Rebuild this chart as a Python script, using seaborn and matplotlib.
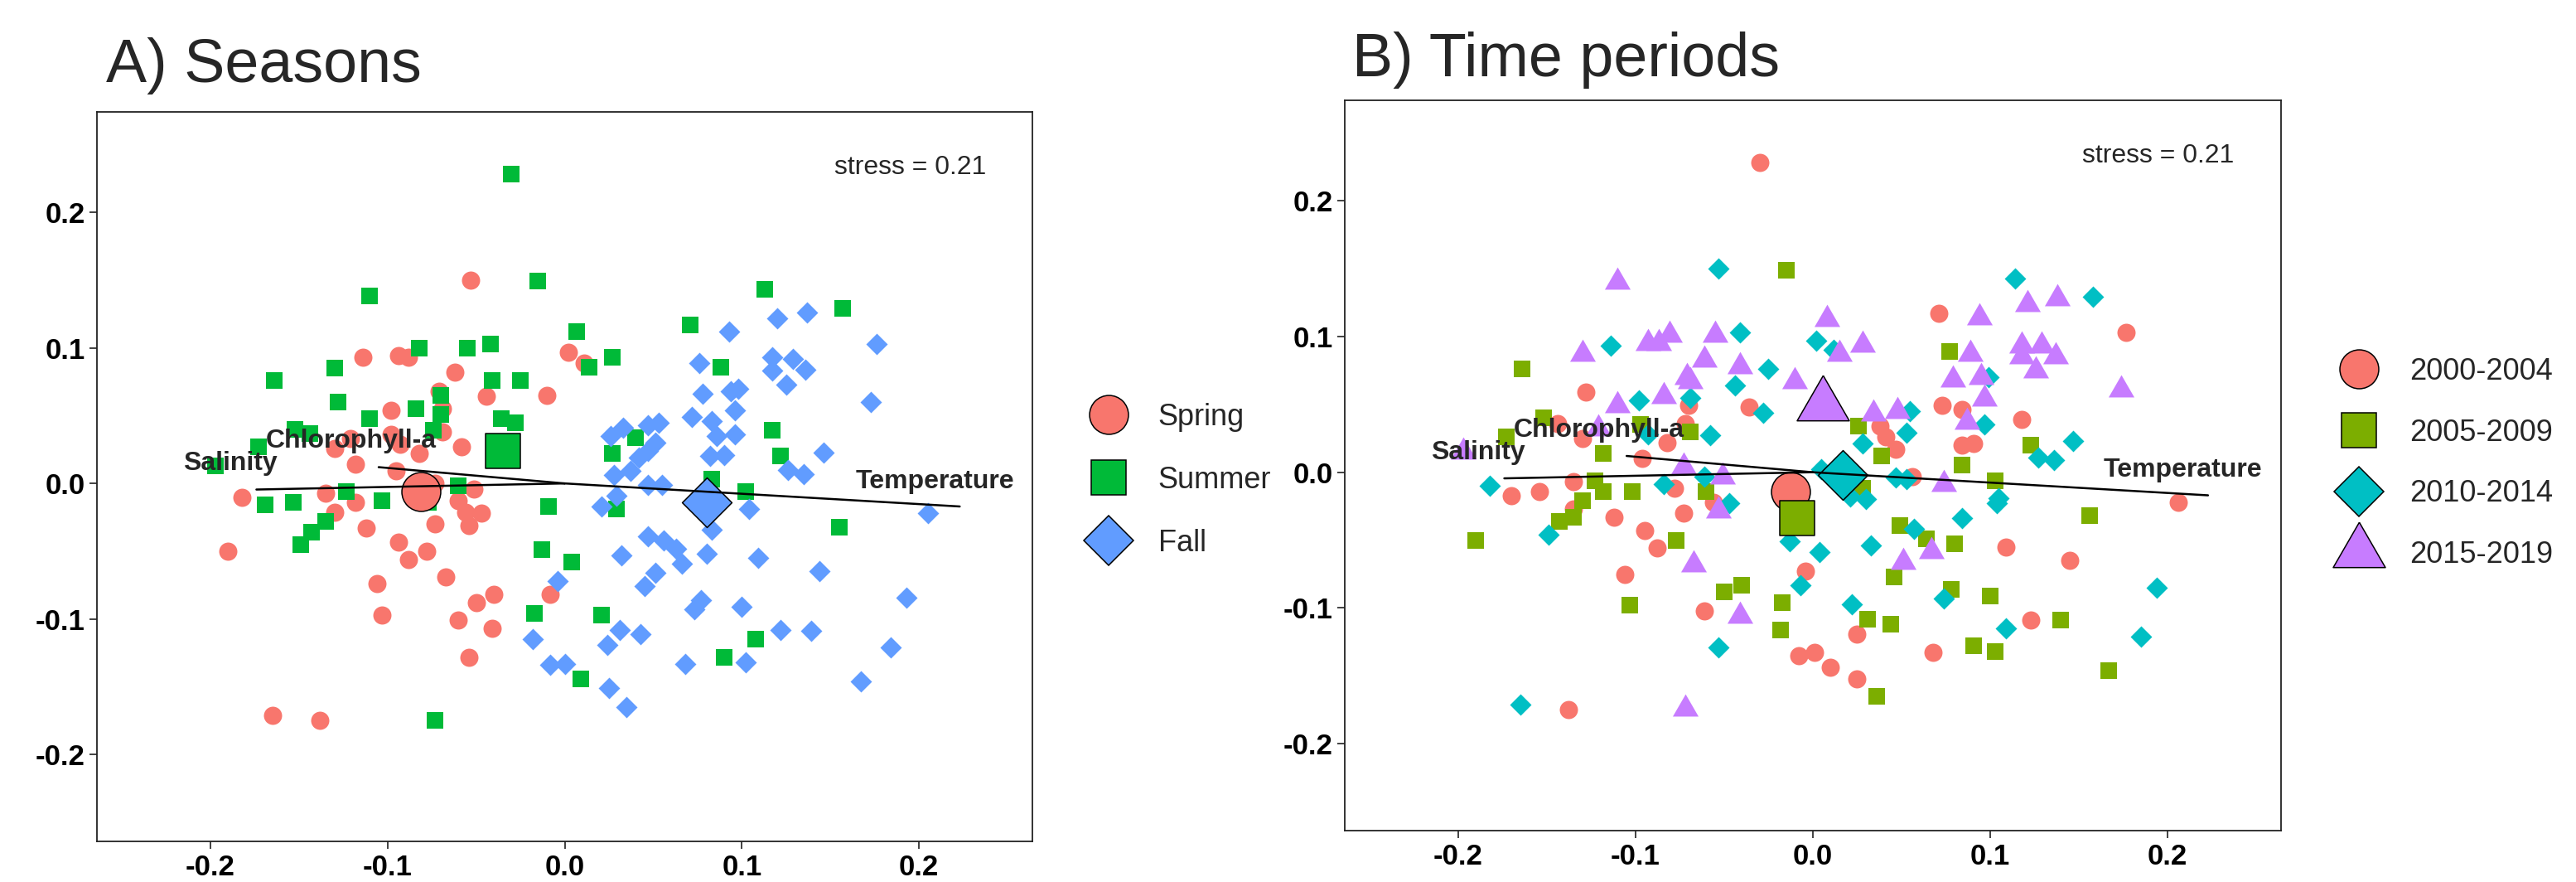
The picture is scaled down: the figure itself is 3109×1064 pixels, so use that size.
import matplotlib
matplotlib.use("Agg")
import matplotlib.pyplot as plt
import seaborn as sns
from matplotlib.lines import Line2D

# ---------------- Panel A : seasons ----------------
spring_x = [-0.053, -0.114, -0.094, -0.088, -0.062, 0.002, 0.011, -0.071, -0.044, -0.010,
            -0.098, -0.069, -0.069, -0.098, -0.121, -0.130, -0.093, -0.082, -0.058, -0.118,
            -0.095, -0.182, -0.135, -0.118, -0.130, -0.112, -0.094, -0.088, -0.078, -0.073,
            -0.060, -0.056, -0.054, -0.047, -0.051, -0.073, -0.190, -0.106, -0.067, -0.103,
            -0.050, -0.040, -0.060, -0.041, -0.054, -0.008, -0.165, -0.138]
spring_y = [0.150, 0.093, 0.094, 0.093, 0.082, 0.097, 0.089, 0.068, 0.064, 0.065,
            0.054, 0.055, 0.038, 0.036, 0.033, 0.026, 0.029, 0.022, 0.027, 0.014,
            0.009, -0.010, -0.007, -0.014, -0.021, -0.033, -0.043, -0.056, -0.050, -0.030,
            -0.013, -0.021, -0.031, -0.022, -0.004, 0.000, -0.050, -0.074, -0.069, -0.097,
            -0.088, -0.082, -0.101, -0.107, -0.128, -0.082, -0.171, -0.175]

summer_x = [-0.030, -0.015, -0.110, 0.007, -0.082, -0.055, -0.042, -0.130, -0.164, -0.041,
            -0.025, -0.128, -0.070, -0.084, -0.110, -0.070, -0.036, -0.028, -0.152, -0.144,
            -0.074, -0.173, -0.197, -0.169, -0.153, -0.123, -0.103, -0.135, -0.143, -0.149,
            -0.060, -0.077, -0.009, -0.013, 0.004, -0.017, 0.009, -0.073, 0.113, 0.157,
            0.071, 0.027, 0.014, 0.088, 0.117, 0.040, 0.027, 0.122, 0.083, 0.102,
            0.029, 0.155, 0.108, 0.090, 0.021]
summer_y = [0.228, 0.149, 0.138, 0.112, 0.100, 0.100, 0.103, 0.085, 0.076, 0.076,
            0.076, 0.060, 0.065, 0.055, 0.048, 0.051, 0.048, 0.045, 0.040, 0.037,
            0.039, 0.027, 0.013, -0.016, -0.014, -0.006, -0.013, -0.028, -0.036, -0.045,
            -0.002, -0.014, -0.017, -0.049, -0.058, -0.096, -0.144, -0.175, 0.143, 0.129,
            0.117, 0.093, 0.086, 0.086, 0.039, 0.034, 0.022, 0.020, 0.003, -0.006,
            -0.019, -0.032, -0.115, -0.128, -0.097]

fall_x = [-0.004, -0.018, -0.008, 0.000, 0.120, 0.137, 0.093, 0.176, 0.076, 0.117,
          0.129, 0.136, 0.117, 0.125, 0.078, 0.094, 0.098, 0.173, 0.096, 0.072,
          0.083, 0.086, 0.096, 0.026, 0.033, 0.047, 0.053, 0.051, 0.042, 0.047,
          0.082, 0.090, 0.146, 0.126, 0.135, 0.028, 0.037, 0.047, 0.055, 0.029,
          0.021, 0.083, 0.104, 0.205, 0.047, 0.056, 0.063, 0.032, 0.080, 0.066,
          0.109, 0.144, 0.051, 0.045, 0.077, 0.073, 0.100, 0.193, 0.031, 0.043,
          0.024, 0.122, 0.139, 0.184, 0.068, 0.102, 0.025, 0.035, 0.167]
fall_y = [-0.072, -0.115, -0.134, -0.133, 0.122, 0.126, 0.112, 0.103, 0.089, 0.093,
          0.092, 0.084, 0.083, 0.073, 0.066, 0.068, 0.070, 0.060, 0.054, 0.049,
          0.046, 0.035, 0.036, 0.035, 0.041, 0.043, 0.045, 0.030, 0.019, 0.024,
          0.020, 0.021, 0.023, 0.010, 0.007, 0.006, 0.009, -0.001, -0.001, -0.009,
          -0.017, -0.034, -0.019, -0.022, -0.039, -0.042, -0.048, -0.053, -0.052, -0.059,
          -0.055, -0.065, -0.066, -0.076, -0.086, -0.093, -0.091, -0.084, -0.108, -0.111,
          -0.119, -0.108, -0.109, -0.121, -0.133, -0.132, -0.151, -0.165, -0.146]

season_labels = ["Spring", "Summer", "Fall"]
season_cent_x = [-0.081, -0.035, 0.080]
season_cent_y = [-0.006, 0.024, -0.014]

# ---------------- Panel B : time periods ----------------
p1_x = [-0.030, -0.128, -0.144, -0.130, -0.036, -0.070, -0.072, -0.082, -0.096,
        0.071, 0.177, 0.073, 0.084, 0.118, 0.038, 0.041, 0.047, 0.084, 0.091,
        -0.135, -0.170, -0.154, -0.135, -0.112, -0.078, -0.073, -0.056, -0.095, -0.088,
        -0.106, -0.061, -0.004, -0.008, 0.001, -0.138,
        0.056, 0.206, 0.109, 0.145, 0.025, 0.010, 0.025, 0.068, 0.123]
p1_y = [0.228, 0.059, 0.036, 0.025, 0.048, 0.049, 0.036, 0.022, 0.010,
        0.117, 0.103, 0.049, 0.046, 0.039, 0.034, 0.026, 0.017, 0.020, 0.021,
        -0.007, -0.017, -0.014, -0.027, -0.033, -0.012, -0.030, -0.022, -0.043, -0.056,
        -0.075, -0.102, -0.073, -0.135, -0.133, -0.175,
        -0.003, -0.022, -0.055, -0.065, -0.119, -0.144, -0.152, -0.133, -0.109]

p2_x = [-0.015, -0.164, -0.152, -0.173, -0.097, -0.069, -0.118,
        0.077, 0.026, 0.039, 0.123, 0.084,
        -0.123, -0.118, -0.102, -0.130, -0.135, -0.143, -0.190, -0.060, -0.077, -0.103,
        -0.050, -0.040, -0.017, -0.018,
        0.103, 0.028, 0.156, 0.049, 0.064, 0.080, 0.046, 0.078, 0.100, 0.031,
        0.044, 0.140, 0.091, 0.103, 0.036, 0.167]
p2_y = [0.149, 0.076, 0.040, 0.026, 0.035, 0.030, 0.014,
        0.089, 0.034, 0.012, 0.020, 0.005,
        -0.006, -0.014, -0.014, -0.021, -0.033, -0.036, -0.050, -0.014, -0.050, -0.098,
        -0.088, -0.083, -0.096, -0.116,
        -0.006, -0.012, -0.032, -0.039, -0.049, -0.053, -0.077, -0.086, -0.091, -0.108,
        -0.112, -0.109, -0.128, -0.132, -0.165, -0.146]

p3_x = [-0.053, -0.114, -0.041, 0.002, -0.025, -0.044, -0.098, -0.069, -0.028, -0.058, -0.093,
        0.114, 0.158, 0.012, 0.099, 0.055, 0.097, 0.053, 0.028, 0.147, 0.127, 0.136,
        -0.182, -0.149, -0.084, -0.061, -0.047, -0.013, 0.004, -0.007, -0.053, -0.165, 0.005,
        0.021, 0.030, 0.047, 0.053, 0.105, 0.104, 0.084, 0.057, 0.033, 0.022, 0.074,
        0.109, 0.194, 0.185]
p3_y = [0.150, 0.093, 0.103, 0.097, 0.076, 0.064, 0.053, 0.055, 0.044, 0.027, 0.028,
        0.143, 0.129, 0.090, 0.070, 0.045, 0.035, 0.029, 0.021, 0.023, 0.011, 0.009,
        -0.010, -0.046, -0.009, -0.003, -0.023, -0.051, -0.059, -0.083, -0.129, -0.171, 0.002,
        -0.018, -0.020, -0.004, -0.005, -0.019, -0.023, -0.034, -0.042, -0.054, -0.097, -0.093,
        -0.115, -0.085, -0.121]

p4_x = [-0.110, -0.130, -0.093, -0.087, -0.081, -0.055, -0.061, -0.041, -0.071, -0.069,
        -0.010, -0.084, -0.110, -0.121, -0.197, -0.073,
        0.008, 0.094, 0.121, 0.138, 0.028, 0.015, 0.089, 0.118, 0.129, 0.118,
        0.137, 0.126, 0.079, 0.095, 0.097, 0.174, 0.034, 0.048, 0.087,
        -0.051, -0.053, -0.067, -0.041, -0.072, 0.074, 0.051, 0.067]
p4_y = [0.140, 0.087, 0.095, 0.095, 0.101, 0.101, 0.083, 0.078, 0.070, 0.067,
        0.067, 0.056, 0.049, 0.032, 0.015, 0.004,
        0.113, 0.114, 0.124, 0.128, 0.094, 0.087, 0.087, 0.093, 0.093, 0.085,
        0.085, 0.075, 0.068, 0.070, 0.054, 0.061, 0.043, 0.045, 0.037,
        -0.003, -0.028, -0.068, -0.106, -0.174, -0.009, -0.066, -0.058]

period_labels = ["2000-2004", "2005-2009", "2010-2014", "2015-2019"]
period_cent_x = [-0.0125, -0.009, 0.017, 0.0055]
period_cent_y = [-0.0145, -0.034, -0.002, 0.049]

# ---------------- environmental vectors ----------------
vec_names = ["Salinity", "Chlorophyll-a", "Temperature"]
vec_end_x = [-0.174, -0.105, 0.223]
vec_end_y = [-0.0045, 0.012, -0.017]
vec_lab_x = [-0.189, -0.1205, 0.209]
vec_lab_y = [0.0147, 0.031, 0.0016]

stress_text = "stress = 0.21"
ticks = [-0.2, -0.1, 0.0, 0.1, 0.2]
tick_labels = ["-0.2", "-0.1", "0.0", "0.1", "0.2"]

# ---------------- styling ----------------
sns.set_theme(style="white")
plt.rcParams['font.family'] = ['Liberation Sans', 'DejaVu Sans']

TRI = [(0, 1), (0.866, -0.5), (-0.866, -0.5), (0, 1)]
col_season = ["#F8766D", "#00BA38", "#619CFF"]
col_period = ["#F8766D", "#7CAE00", "#00BFC4", "#C77CFF"]
mk = ["o", "s", "D", TRI]
small_s = [250, 207, 175, 666]
big_ms = [33.8, 30.6, 30.5, 52.4]

W, H = 3109, 1064
fig = plt.figure(figsize=(W / 100, H / 100), dpi=100)
axA = fig.add_axes([117 / W, 1 - 1015 / H, (1246 - 117) / W, (1015 - 135) / H])
axB = fig.add_axes([1623 / W, 1 - 1002 / H, (2752.6 - 1623) / W, (1002 - 121) / H])


def draw_panel(ax, groups, cols, cent_x, cent_y):
    for i, (gx, gy) in enumerate(groups):
        sns.scatterplot(x=gx, y=gy, color=cols[i], marker=mk[i], s=small_s[i],
                        linewidth=0, ax=ax, legend=False, zorder=2)
    for i in range(len(groups)):
        sns.scatterplot(x=[cent_x[i]], y=[cent_y[i]], color=cols[i], marker=mk[i],
                        s=big_ms[i] ** 2, edgecolor="black", linewidth=1.1,
                        ax=ax, legend=False, zorder=3)
    for ex, ey in zip(vec_end_x, vec_end_y):
        ax.plot([0, ex], [0, ey], color="black", lw=1.8, zorder=4)
    for name, lx, ly in zip(vec_names, vec_lab_x, vec_lab_y):
        ax.text(lx, ly, name, fontsize=23, fontweight="bold", ha="center",
                va="center", zorder=5)
    ax.text(0.195, 0.233, stress_text, fontsize=23, ha="center", va="center")
    ax.set_xlim(-0.264, 0.264)
    ax.set_ylim(-0.264, 0.274)
    ax.set_xticks(ticks)
    ax.set_yticks(ticks)
    ax.set_xticklabels(tick_labels)
    ax.set_yticklabels(tick_labels)
    ax.set_xlabel("")
    ax.set_ylabel("")
    ax.tick_params(direction="out", length=6.5, width=1.3, color="#333333",
                   labelsize=25, pad=4, bottom=True, left=True)
    for lab in ax.get_xticklabels() + ax.get_yticklabels():
        lab.set_fontweight("bold")
        lab.set_color("black")
    for sp in ax.spines.values():
        sp.set_color("#222222")
        sp.set_linewidth(1.3)
    ax.grid(False)


draw_panel(axA, [(spring_x, spring_y), (summer_x, summer_y), (fall_x, fall_y)],
           col_season, season_cent_x, season_cent_y)
draw_panel(axB, [(p1_x, p1_y), (p2_x, p2_y), (p3_x, p3_y), (p4_x, p4_y)],
           col_period, period_cent_x, period_cent_y)

fig.text(128 / W, 1 - 99 / H, "A) Seasons", fontsize=53, ha="left", va="baseline")
fig.text(1632 / W, 1 - 92 / H, "B) Time periods", fontsize=53, ha="left", va="baseline")


def handles(cols, n):
    return [Line2D([], [], ls="", marker=mk[i], ms=big_ms[i], mfc=cols[i],
                   mec="black", mew=1.1) for i in range(n)]


fig.legend(handles=handles(col_season, 3), labels=season_labels, loc="upper left",
           bbox_to_anchor=(1309 / W, 1 - 486 / H), frameon=False, fontsize=26,
           handlelength=1.6, handletextpad=0.86, labelspacing=1.13, borderpad=0,
           borderaxespad=0)
fig.legend(handles=handles(col_period, 4), labels=period_labels, loc="upper left",
           bbox_to_anchor=(2818 / W, 1 - 431 / H), frameon=False, fontsize=26,
           handlelength=1.6, handletextpad=0.89, labelspacing=1.07, borderpad=0,
           borderaxespad=0)

fig.savefig("out.png", dpi=100)
